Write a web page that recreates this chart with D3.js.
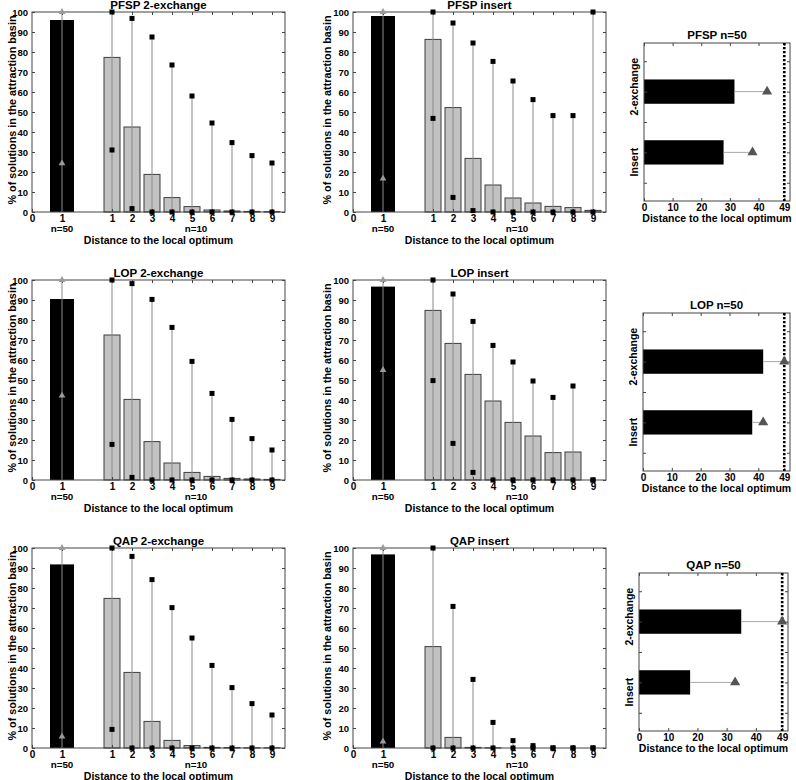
<!DOCTYPE html>
<html><head><meta charset="utf-8">
<script src="https://cdn.jsdelivr.net/npm/d3@7"></script>
<style>body{margin:0;background:#fff}</style>
</head><body>
<script>
// ---------- data ----------
const panelTitles = ["PFSP 2-exchange", "PFSP insert", "LOP 2-exchange", "LOP insert", "QAP 2-exchange", "QAP insert"];
const distances = [1, 2, 3, 4, 5, 6, 7, 8, 9];
const xTickLabels = ["0", "1", "1", "2", "3", "4", "5", "6", "7", "8", "9"];
// n=50, distance 1
const n50Mean = [96, 98, 90.5, 96.7, 91.8, 96.8];
const n50Max = [100, 100, 100, 100, 100, 100];
const n50Min = [24.3, 16.7, 42.2, 55, 5.7, 3.2];
// n=10, distances 1..9
const n10Mean = [
  [77.3, 42.5, 18.8, 7.2, 2.7, 1.0, 0.5, 0.3, 0.2],
  [86.3, 52.2, 26.8, 13.5, 7.0, 4.5, 2.8, 2.2, 0.8],
  [72.5, 40.3, 19.2, 8.5, 3.8, 1.8, 0.8, 0.5, 0.3],
  [84.8, 68.3, 52.8, 39.5, 28.8, 22.0, 13.7, 14.0, 0],
  [74.8, 37.8, 13.3, 3.8, 1.2, 0.3, 0.2, 0.1, 0.1],
  [50.7, 5.3, 0.3, 0.1, 0, 0, 0, 0, 0]
];
const n10Max = [
  [100, 96.8, 87.5, 73.5, 58, 44.5, 34.7, 28.2, 24.5],
  [100, 94.5, 84.5, 75.3, 65.5, 56.2, 48.2, 48.2, 100],
  [100, 98.2, 90.3, 76.3, 59.3, 43.3, 30.3, 20.7, 15],
  [100, 93, 79.3, 67.3, 59, 49.5, 41.3, 47, 0],
  [100, 95.8, 84.2, 70.2, 55, 41.3, 30.2, 22.2, 16.5],
  [100, 70.8, 34.3, 12.8, 3.7, 1.2, 0, 0, 0]
];
const n10Min = [
  [31, 1.7, 0, 0, 0, 0, 0, 0, 0],
  [46.8, 7.3, 0.7, 0, 0, 0, 0, 0, 0],
  [17.8, 1.3, 0, 0, 0, 0, 0, 0, 0],
  [49.7, 18.3, 3.8, 0, 0, 0, 0, 0, 0],
  [9.3, 0, 0, 0, 0, 0, 0, 0, 0],
  [0, 0, 0, 0, 0, 0, 0, 0, 0]
];
const yTicks = [0, 10, 20, 30, 40, 50, 60, 70, 80, 90, 100];
// right-hand panels (n=50, distance to local optimum)
const problems = ["PFSP", "LOP", "QAP"];
const operators = ["2-exchange", "Insert"];
const basinMean = [[31.6, 27.8], [41.7, 37.9], [35, 17.5]];
const basinMax = [[43, 37.9], [49, 41.7], [49, 32.9]];
const optimumDistance = 49;
const rightTicks = [0, 10, 20, 30, 40, 49];

// ---------- drawing ----------
const W = 796, H = 780;
const FONT = "'Liberation Sans', Arial, Helvetica, sans-serif";
const svg = d3.select("body").append("svg").attr("width", W).attr("height", H)
  .style("font-family", FONT).style("font-weight", "bold");
svg.append("rect").attr("width", W).attr("height", H).attr("fill", "#fff");

const rowTops = [12, 280, 548];
const colLefts = [32, 353];
const plotW = 253, plotH = 200;
const ylabBase = [16, 22];
const AX = "#444";

function styleAxis(g, fs) {
  g.select(".domain").remove();
  g.selectAll(".tick line").attr("stroke", AX);
  g.selectAll("text").attr("fill", "#000").style("font-size", fs + "px")
    .style("font-family", FONT).style("font-weight", "bold");
}

function leftPanel(i) {
  const row = Math.floor(i / 2), col = i % 2;
  const L = colLefts[col], T = rowTops[row];
  const x = d3.scaleLinear().domain([0, 12.65]).range([L, L + plotW]);
  const y = d3.scaleLinear().domain([0, 100]).range([T + plotH, T]);
  const blackPos = 1.5;
  const grayPos = d => d + 3;
  const tickVals = [0, blackPos].concat(distances.map(grayPos));
  const g = svg.append("g");

  // black bar (n=50)
  g.append("rect").attr("x", x(blackPos - 0.6)).attr("width", x(blackPos + 0.6) - x(blackPos - 0.6))
    .attr("y", y(n50Mean[i])).attr("height", y(0) - y(n50Mean[i])).attr("fill", "#000");
  // gray bars (n=10)
  g.selectAll(".gb").data(distances).enter().append("rect")
    .attr("x", d => x(grayPos(d) - 0.4)).attr("width", x(0.8) - x(0))
    .attr("y", (d, k) => y(n10Mean[i][k])).attr("height", (d, k) => y(0) - y(n10Mean[i][k]))
    .attr("fill", "#c2c2c2").attr("stroke", "#3c3c3c").attr("stroke-width", 1);

  // range lines
  g.append("line").attr("x1", x(blackPos)).attr("x2", x(blackPos))
    .attr("y1", y(0)).attr("y2", y(n50Max[i])).attr("stroke", "#8c8c8c").attr("stroke-width", 1);
  g.selectAll(".rl").data(distances).enter().append("line")
    .attr("x1", d => x(grayPos(d))).attr("x2", d => x(grayPos(d)))
    .attr("y1", y(0)).attr("y2", (d, k) => y(n10Max[i][k]))
    .attr("stroke", "#8a8a8a").attr("stroke-width", 1);

  // box
  g.append("rect").attr("x", L).attr("y", T).attr("width", plotW).attr("height", plotH)
    .attr("fill", "none").attr("stroke", AX).attr("stroke-width", 1);

  // axes
  const ax = g.append("g").attr("transform", `translate(0,${T + plotH})`)
    .call(d3.axisBottom(x).tickValues(tickVals).tickSize(-3).tickPadding(3)
      .tickFormat((d, k) => xTickLabels[k]));
  styleAxis(ax, 10);
  const axt = g.append("g").attr("transform", `translate(0,${T})`)
    .call(d3.axisTop(x).tickValues(tickVals.slice(1)).tickSize(-3).tickFormat(""));
  styleAxis(axt, 10);
  const ay = g.append("g").attr("transform", `translate(${L},0)`)
    .call(d3.axisLeft(y).tickValues(yTicks).tickSize(-3).tickPadding(4));
  styleAxis(ay, 9.5);
  const ayr = g.append("g").attr("transform", `translate(${L + plotW},0)`)
    .call(d3.axisRight(y).tickValues(yTicks).tickSize(-3).tickFormat(""));
  styleAxis(ayr, 9.5);

  // markers
  const triSmall = d3.symbol().type(d3.symbolTriangle).size(20);
  [n50Max[i], n50Min[i]].forEach(v => {
    g.append("path").attr("d", triSmall).attr("transform", `translate(${x(blackPos)},${y(v)})`)
      .attr("fill", "#9a9a9a");
  });
  distances.forEach((d, k) => {
    [n10Max[i][k], n10Min[i][k]].forEach(v => {
      g.append("rect").attr("x", x(grayPos(d)) - 2.5).attr("y", y(v) - 2.5)
        .attr("width", 5).attr("height", 5).attr("fill", "#000");
    });
  });

  // n labels
  g.append("text").attr("x", x(blackPos)).attr("y", T + plotH + 20).attr("text-anchor", "middle")
    .style("font-size", "9.8px").text("n=50");
  g.append("text").attr("x", x(grayPos(5)) + 4).attr("y", T + plotH + 20).attr("text-anchor", "middle")
    .style("font-size", "9.8px").text("n=10");
  // axis titles
  g.append("text").attr("x", L + plotW / 2).attr("y", T + plotH + 31.5).attr("text-anchor", "middle")
    .style("font-size", "10.5px").text("Distance to the local optimum");
  g.append("text").attr("transform", `translate(${L - ylabBase[col]},${T + plotH / 2 - 2}) rotate(-90)`)
    .attr("text-anchor", "middle").style("font-size", "10.8px")
    .text("% of solutions in the attraction basin");
  g.append("text").attr("x", L + plotW / 2).attr("y", T - 3).attr("text-anchor", "middle")
    .style("font-size", "11.5px").text(panelTitles[i]);
}

const rightBoxes = [
  {l: 644, r: 790, t: 43},
  {l: 643, r: 790, t: 313},
  {l: 639, r: 788, t: 573}
];
const rH = 158;

function rightPanel(r) {
  const b = rightBoxes[r];
  const B = b.t + rH;
  const x = d3.scaleLinear().domain([0, 51]).range([b.l, b.r]);
  const y = d3.scaleLinear().domain([0.2, 2.8]).range([B, b.t]);
  const pos = k => 2 - k; // 2-exchange on top, Insert below
  const g = svg.append("g");

  operators.forEach((op, k) => {
    g.append("rect").attr("x", x(0)).attr("width", x(basinMean[r][k]) - x(0))
      .attr("y", y(pos(k) + 0.2)).attr("height", y(pos(k) - 0.2) - y(pos(k) + 0.2))
      .attr("fill", "#000");
    g.append("line").attr("x1", x(basinMean[r][k])).attr("x2", x(basinMax[r][k]))
      .attr("y1", y(pos(k))).attr("y2", y(pos(k))).attr("stroke", "#a8a8a8").attr("stroke-width", 1);
  });

  g.append("rect").attr("x", b.l).attr("y", b.t).attr("width", b.r - b.l).attr("height", rH)
    .attr("fill", "none").attr("stroke", AX).attr("stroke-width", 1);

  const ax = g.append("g").attr("transform", `translate(0,${B})`)
    .call(d3.axisBottom(x).tickValues(rightTicks).tickSize(-3).tickPadding(3));
  styleAxis(ax, 10);
  const axt = g.append("g").attr("transform", `translate(0,${b.t})`)
    .call(d3.axisTop(x).tickValues(rightTicks).tickSize(-3).tickFormat(""));
  styleAxis(axt, 10);
  const yt = [0.5, 1, 1.5, 2, 2.5];
  const ay = g.append("g").attr("transform", `translate(${b.l},0)`)
    .call(d3.axisLeft(y).tickValues(yt).tickSize(-3).tickFormat(""));
  styleAxis(ay, 10);
  const ayr = g.append("g").attr("transform", `translate(${b.r},0)`)
    .call(d3.axisRight(y).tickValues(yt).tickSize(-3).tickFormat(""));
  styleAxis(ayr, 10);

  // dotted line at optimum distance
  g.append("line").attr("x1", x(optimumDistance)).attr("x2", x(optimumDistance))
    .attr("y1", b.t).attr("y2", B).attr("stroke", "#000").attr("stroke-width", 2.6)
    .attr("stroke-dasharray", "2.2,1.8");

  const tri = d3.symbol().type(d3.symbolTriangle).size(45);
  operators.forEach((op, k) => {
    g.append("path").attr("d", tri).attr("transform", `translate(${x(basinMax[r][k])},${y(pos(k))})`)
      .attr("fill", "#555");
    g.append("text").attr("transform", `translate(${b.l - 6},${y(pos(k)) + 24}) rotate(-90)`)
      .attr("text-anchor", "start").style("font-size", "10.5px").text(op);
  });

  g.append("text").attr("x", (b.l + b.r) / 2).attr("y", b.t - 4).attr("text-anchor", "middle")
    .style("font-size", "11.5px").text(problems[r] + " n=50");
  g.append("text").attr("x", (b.l + b.r) / 2).attr("y", B + 21).attr("text-anchor", "middle")
    .style("font-size", "10.5px").text("Distance to the local optimum");
}

for (let i = 0; i < 6; i++) leftPanel(i);
for (let r = 0; r < 3; r++) rightPanel(r);
</script>
</body></html>
